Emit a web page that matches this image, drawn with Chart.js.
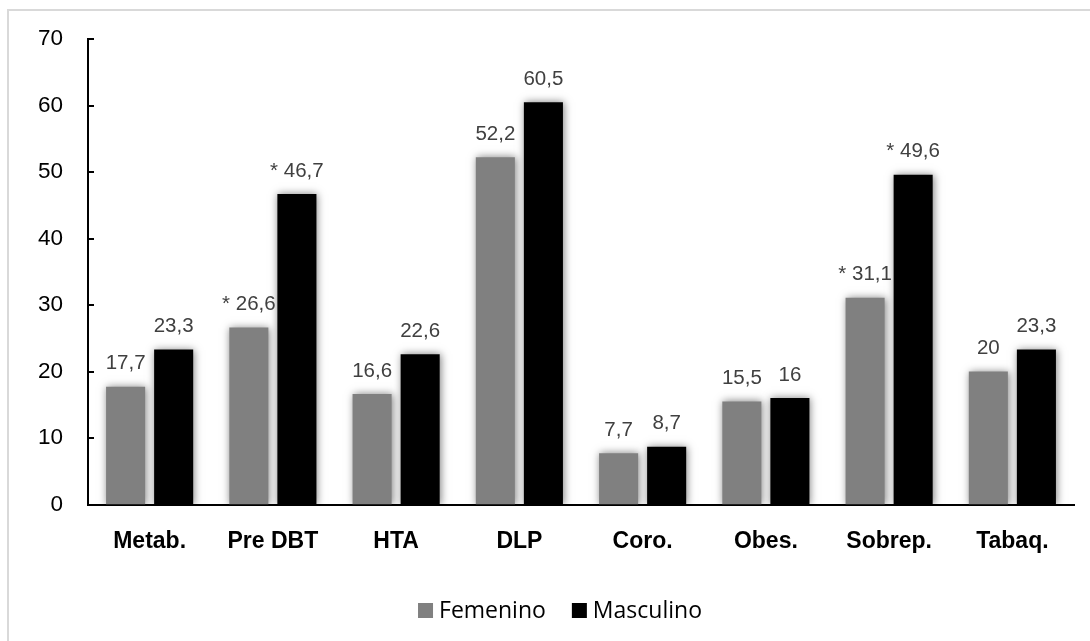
<!DOCTYPE html>
<html>
<head>
<meta charset="utf-8">
<script src="https://cdn.jsdelivr.net/npm/chart.js@4/dist/chart.umd.min.js"></script>
<style>
  html, body { margin: 0; padding: 0; background: #ffffff; }
  #wrap { width: 1090px; height: 641px; position: relative; }
</style>
</head>
<body>
<div id="wrap"><canvas id="c" width="1090" height="641"></canvas></div>
<script>
// Categorías de factores de riesgo
const categories = ['Metab.', 'Pre DBT', 'HTA', 'DLP', 'Coro.', 'Obes.', 'Sobrep.', 'Tabaq.'];
// Porcentajes por sexo
const femenino = [17.7, 26.6, 16.6, 52.2, 7.7, 15.5, 31.1, 20];
const masculino = [23.3, 46.7, 22.6, 60.5, 8.7, 16, 49.6, 23.3];
// Marcas de significación que preceden a cada valor
const femeninoMarcas = ['', '* ', '', '', '', '', '* ', ''];
const masculinoMarcas = ['', '* ', '', '', '', '', '* ', ''];
// Eje Y
const yTicks = [0, 10, 20, 30, 40, 50, 60, 70];

const marcas = [femeninoMarcas, masculinoMarcas];
const fmt = v => String(v).replace('.', ',');

// Marco gris claro del área del gráfico
const framePlugin = {
  id: 'frame',
  beforeDraw(chart) {
    const ctx = chart.ctx;
    ctx.save();
    ctx.fillStyle = '#ffffff';
    ctx.fillRect(0, 0, chart.width, chart.height);
    ctx.strokeStyle = '#d9d9d9';
    ctx.lineWidth = 2;
    ctx.beginPath();
    ctx.moveTo(8, chart.height);
    ctx.lineTo(8, 10);
    ctx.lineTo(chart.width, 10);
    ctx.stroke();
    ctx.restore();
  }
};

// Sombra suave alrededor de las barras
const shadowPlugin = {
  id: 'barShadow',
  beforeDatasetsDraw(chart) {
    const ctx = chart.ctx;
    ctx.save();
    ctx.shadowColor = 'rgba(0,0,0,0.5)';
    ctx.shadowBlur = 8;
    ctx.shadowOffsetX = 1;
    ctx.shadowOffsetY = 0;
  },
  afterDatasetsDraw(chart) {
    chart.ctx.restore();
  }
};

// Marcas de división hacia el interior del eje Y y etiquetas de valor
const overlayPlugin = {
  id: 'overlay',
  afterDatasetsDraw(chart) {
    const ctx = chart.ctx;
    const y = chart.scales.y;
    const left = chart.chartArea.left;
    ctx.save();
    ctx.strokeStyle = '#000000';
    ctx.lineWidth = 2;
    y.ticks.forEach(t => {
      const py = Math.round(y.getPixelForValue(t.value));
      ctx.beginPath();
      ctx.moveTo(left - 1, py);
      ctx.lineTo(left + 6, py);
      ctx.stroke();
    });
    ctx.font = '20.5px "Liberation Sans", Arial, sans-serif';
    ctx.fillStyle = '#404040';
    ctx.textAlign = 'center';
    ctx.textBaseline = 'middle';
    chart.data.datasets.forEach((ds, di) => {
      const meta = chart.getDatasetMeta(di);
      meta.data.forEach((bar, i) => {
        ctx.fillText(marcas[di][i] + fmt(ds.data[i]), bar.x, bar.y - 23);
      });
    });
    ctx.restore();
  },
  afterDraw(chart) {
    // Leyenda inferior
    const ctx = chart.ctx;
    ctx.save();
    ctx.font = '23px "Open Sans", sans-serif';
    ctx.textBaseline = 'middle';
    ctx.textAlign = 'left';
    const box = 15, gapText = 6, gapItem = 26;
    const items = chart.data.datasets.map(ds => ({
      label: ds.label, color: ds.backgroundColor, w: ctx.measureText(ds.label).width
    }));
    const total = items.reduce((s, it) => s + box + gapText + it.w, 0) + gapItem * (items.length - 1);
    let x = 560 - total / 2;
    const cy = 610;
    items.forEach(it => {
      ctx.fillStyle = it.color;
      ctx.fillRect(x, cy - 7, box, box);
      ctx.fillStyle = '#000000';
      ctx.fillText(it.label, x + box + gapText, cy + 1);
      x += box + gapText + it.w + gapItem;
    });
    ctx.restore();
  }
};

new Chart(document.getElementById('c'), {
  type: 'bar',
  data: {
    labels: categories,
    datasets: [
      { label: 'Femenino', data: femenino, backgroundColor: '#808080', borderWidth: 0 },
      { label: 'Masculino', data: masculino, backgroundColor: '#000000', borderWidth: 0 }
    ]
  },
  options: {
    responsive: false,
    animation: false,
    devicePixelRatio: 1,
    barPercentage: 0.8125,
    categoryPercentage: 0.78,
    layout: { padding: { left: 0, right: 16, top: 39, bottom: 86.5 } },
    plugins: {
      legend: { display: false },
      tooltip: { enabled: false },
      title: { display: false }
    },
    scales: {
      x: {
        grid: { display: false, drawTicks: false },
        border: { display: true, color: '#000000', width: 2 },
        ticks: {
          padding: 23,
          color: '#000000',
          font: { family: '"Liberation Sans", Arial, sans-serif', size: 23, weight: 'bold' }
        },
        afterFit(scale) { scale.height = 50; }
      },
      y: {
        min: 0,
        max: 70,
        grid: { display: false, drawTicks: false },
        border: { display: true, color: '#000000', width: 2 },
        afterBuildTicks(scale) { scale.ticks = yTicks.map(v => ({ value: v })); },
        ticks: {
          padding: 25,
          color: '#000000',
          font: { family: '"Liberation Sans", Arial, sans-serif', size: 22.5 }
        },
        afterFit(scale) { scale.width = 88; }
      }
    }
  },
  plugins: [framePlugin, shadowPlugin, overlayPlugin]
});
</script>
</body>
</html>
